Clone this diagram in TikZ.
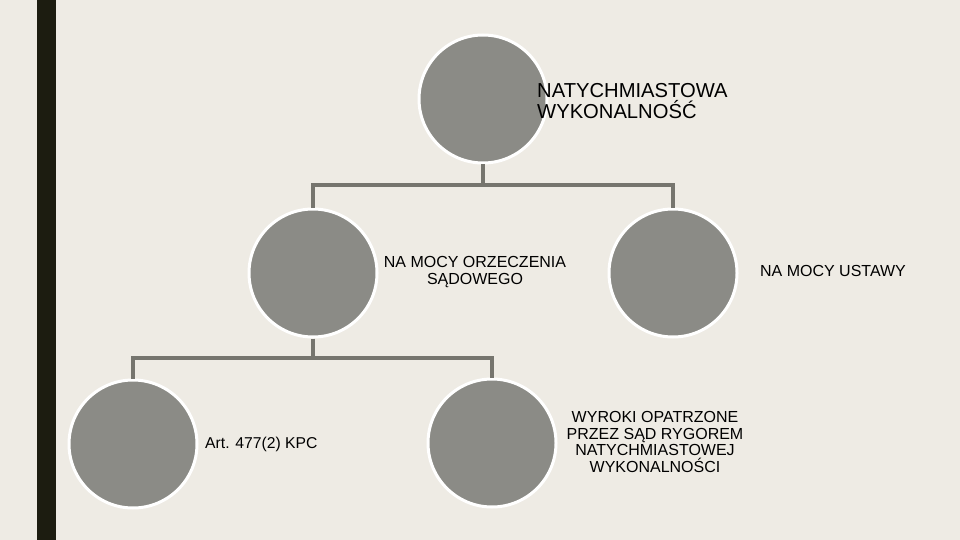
\documentclass[tikz,border=0pt]{standalone}
\usepackage{fontspec}
\setmainfont{Liberation Sans}
\definecolor{bgc}{RGB}{238,235,228}
\definecolor{barc}{RGB}{28,28,16}
\definecolor{circc}{RGB}{139,139,134}
\definecolor{linec}{RGB}{118,117,110}
\begin{document}
\begin{tikzpicture}[x=1pt,y=-1pt,
  bubble/.style={circle,fill=circc,draw=white,line width=3pt,minimum size=128pt,inner sep=0pt},
  conn/.style={draw=linec,line width=4pt},
  lbl/.style={inner sep=0pt,text=black,font=\fontsize{16}{17.5}\selectfont,align=center},
  toplbl/.style={inner sep=0pt,text=black,font=\fontsize{20.2}{21.5}\selectfont,align=left}]
\fill[bgc] (0,0) rectangle (960,540);
\useasboundingbox (0,0) rectangle (960,540);
\fill[barc] (37,0) rectangle (56,540);
% circles
\node[bubble] (top) at (483,99) {};
\node[bubble] (l2) at (313,273) {};
\node[bubble] (r2) at (673,273) {};
\node[bubble] (l3) at (133,444) {};
\node[bubble] (r3) at (492,443) {};
% junctions
\coordinate (j1) at (483,185);
\coordinate (j2) at (313,358);
% connectors
\draw[conn] (top.south) -- (j1);
\draw[conn,line join=miter] (l2.north) |- (j1) -| (r2.north);
\draw[conn] (l2.south) -- (j2);
\draw[conn,line join=miter] (l3.north) |- (j2) -| (r3.north);
% labels
\node[toplbl,anchor=west] (t1) at (537,101) {NATYCHMIASTOWA\\WYKONALNOŚĆ};
\node[lbl] (t2) at (475,272) {NA MOCY ORZECZENIA\\SĄDOWEGO};
\node[lbl] (t3) at (833,271) {NA MOCY USTAWY};
\node[lbl,anchor=west,font=\fontsize{15.7}{17}\selectfont] (t4) at (205,444) {Art. 477(2) KPC};
\node[lbl,font=\fontsize{16}{16.5}\selectfont] (t5) at (655,442) {WYROKI OPATRZONE\\PRZEZ SĄD RYGOREM\\NATYCHMIASTOWEJ\\WYKONALNOŚCI};
\end{tikzpicture}
\end{document}
